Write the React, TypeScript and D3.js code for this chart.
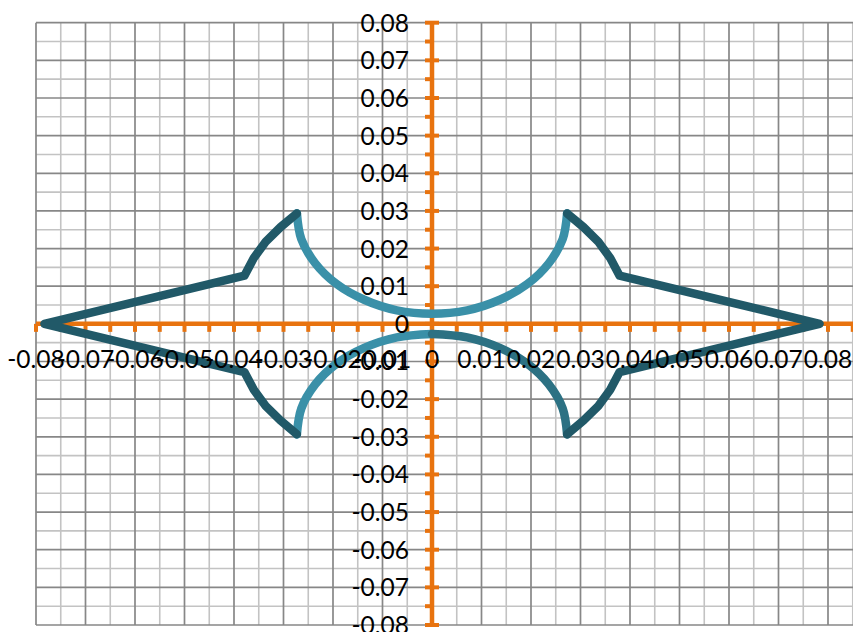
import React from "react";
import * as d3 from "d3";

const W = 853;
const H = 632;

// Tick labels (Excel "General" format)
const xTickValues = [-0.08, -0.07, -0.06, -0.05, -0.04, -0.03, -0.02, -0.01, 0, 0.01, 0.02, 0.03, 0.04, 0.05, 0.06, 0.07, 0.08];
const xTickLabels = ["-0.08", "-0.07", "-0.06", "-0.05", "-0.04", "-0.03", "-0.02", "-0.01", "0", "0.01", "0.02", "0.03", "0.04", "0.05", "0.06", "0.07", "0.08"];
const yTickValues = [-0.08, -0.07, -0.06, -0.05, -0.04, -0.03, -0.02, -0.01, 0, 0.01, 0.02, 0.03, 0.04, 0.05, 0.06, 0.07, 0.08];
const yTickLabels = ["-0.08", "-0.07", "-0.06", "-0.05", "-0.04", "-0.03", "-0.02", "-0.01", "0", "0.01", "0.02", "0.03", "0.04", "0.05", "0.06", "0.07", "0.08"];

// Upper inner arc (light)
const upperArcX = [-0.0273, -0.0264, -0.0236, -0.0193, -0.0137, -0.0071, 0, 0.0071, 0.0137, 0.0193, 0.0236, 0.0264, 0.0273];
const upperArcY = [0.0294, 0.0225, 0.0161, 0.0106, 0.0064, 0.0036, 0.0027, 0.0036, 0.0064, 0.0106, 0.0161, 0.0225, 0.0294];

// Lower inner arc, left half (light)
const lowerLeftX = [-0.0273, -0.0264, -0.0236, -0.0193, -0.0137, -0.0071, 0];
const lowerLeftY = [-0.0294, -0.0225, -0.0161, -0.0106, -0.0064, -0.0036, -0.0027];

// Lower inner arc, right half (mid)
const lowerRightX = [0, 0.0071, 0.0137, 0.0193, 0.0236, 0.0264, 0.0273];
const lowerRightY = [-0.0027, -0.0036, -0.0064, -0.0106, -0.0161, -0.0225, -0.0294];

// Outer wings (dark)
const leftWingX = [-0.0273, -0.0306, -0.0336, -0.0360, -0.0379, -0.0783, -0.0379, -0.0360, -0.0336, -0.0306, -0.0273];
const leftWingY = [0.0293, 0.0257, 0.0218, 0.0175, 0.0128, 0, -0.0128, -0.0175, -0.0218, -0.0257, -0.0293];
const rightWingX = [0.0273, 0.0306, 0.0336, 0.0360, 0.0379, 0.0783, 0.0379, 0.0360, 0.0336, 0.0306, 0.0273];
const rightWingY = [0.0293, 0.0257, 0.0218, 0.0175, 0.0128, 0, -0.0128, -0.0175, -0.0218, -0.0257, -0.0293];

const LIGHT = "#3a90a8";
const MID = "#2c7183";
const DARK = "#215968";
const ORANGE = "#e8730f";

export default function App() {
  const x = d3.scaleLinear().domain([-0.08, 0.08]).range([36, 828]);
  const y = d3.scaleLinear().domain([-0.08, 0.08]).range([625, 22.7]);

  const gridX = d3.range(-16, 18).map((i) => i * 0.005); // up to 0.085
  const gridY = d3.range(-16, 17).map((i) => i * 0.005);

  const pts = (xs: number[], ys: number[]) => xs.map((v, i) => [v, ys[i]] as [number, number]);
  const smooth = d3.line<[number, number]>().x((d) => x(d[0])).y((d) => y(d[1])).curve(d3.curveCatmullRom);
  const straight = d3.line<[number, number]>().x((d) => x(d[0])).y((d) => y(d[1]));

  const x0 = x(0);
  const y0 = y(0);
  const xRight = W;

  const isMajor = (v: number) => Math.abs(Math.round(v * 200)) % 2 === 0;

  return (
    <svg width={W} height={H} style={{ position: "absolute", left: 0, top: 0, background: "#fff" }}>
      <rect x={0} y={0} width={W} height={H} fill="#fff" />
      {/* minor grid */}
      {gridX.filter((v) => !isMajor(v)).map((v, i) => (
        <line key={"mx" + i} x1={x(v)} x2={x(v)} y1={y(0.08)} y2={y(-0.08)} stroke="#c3c3c3" strokeWidth={1.6} />
      ))}
      {gridY.filter((v) => !isMajor(v)).map((v, i) => (
        <line key={"my" + i} x1={x(-0.08)} x2={xRight} y1={y(v)} y2={y(v)} stroke="#c3c3c3" strokeWidth={1.6} />
      ))}
      {/* major grid */}
      {gridX.filter((v) => isMajor(v)).map((v, i) => (
        <line key={"Mx" + i} x1={x(v)} x2={x(v)} y1={y(0.08)} y2={y(-0.08)} stroke="#878787" strokeWidth={1.7} />
      ))}
      {gridY.filter((v) => isMajor(v)).map((v, i) => (
        <line key={"My" + i} x1={x(-0.08)} x2={xRight} y1={y(v)} y2={y(v)} stroke="#878787" strokeWidth={1.7} />
      ))}

      {/* horizontal axis */}
      <line x1={x(-0.08)} x2={xRight} y1={y0} y2={y0} stroke={ORANGE} strokeWidth={4.5} />
      {gridX.map((v, i) => (
        <line key={"hx" + i} x1={x(v)} x2={x(v)} y1={y0} y2={y0 + 8} stroke={ORANGE} strokeWidth={4} />
      ))}
      {/* vertical axis */}
      <line x1={x0} x2={x0} y1={y(0.08)} y2={y(-0.08)} stroke={ORANGE} strokeWidth={4.5} />
      {gridY.map((v, i) =>
        isMajor(v) ? (
          <line key={"vy" + i} x1={x0 - 7} x2={x0 + 7} y1={y(v)} y2={y(v)} stroke={ORANGE} strokeWidth={4} />
        ) : (
          <line key={"vy" + i} x1={x0 - 7} x2={x0} y1={y(v)} y2={y(v)} stroke={ORANGE} strokeWidth={4} />
        )
      )}

      {/* series */}
      <g fill="none" strokeWidth={8.5} strokeLinecap="round" strokeLinejoin="round">
        <path d={smooth(pts(upperArcX, upperArcY)) || ""} stroke={LIGHT} />
        <path d={smooth(pts(lowerLeftX, lowerLeftY)) || ""} stroke={LIGHT} />
        <path d={smooth(pts(lowerRightX, lowerRightY)) || ""} stroke={MID} />
        <path d={straight(pts(leftWingX, leftWingY)) || ""} stroke={DARK} />
        <path d={straight(pts(rightWingX, rightWingY)) || ""} stroke={DARK} />
      </g>

      {/* labels */}
      <g fontFamily="Lato, 'Open Sans', sans-serif" fontSize={24.5} fill="#000">
        {xTickValues.map((v, i) => (
          <text key={"xl" + i} x={x(v)} y={y0 + 44} textAnchor="middle">
            {xTickLabels[i]}
          </text>
        ))}
        {yTickValues.map((v, i) => (
          <text key={"yl" + i} x={409} y={y(v) + 9} textAnchor="end">
            {yTickLabels[i]}
          </text>
        ))}
      </g>
    </svg>
  );
}
